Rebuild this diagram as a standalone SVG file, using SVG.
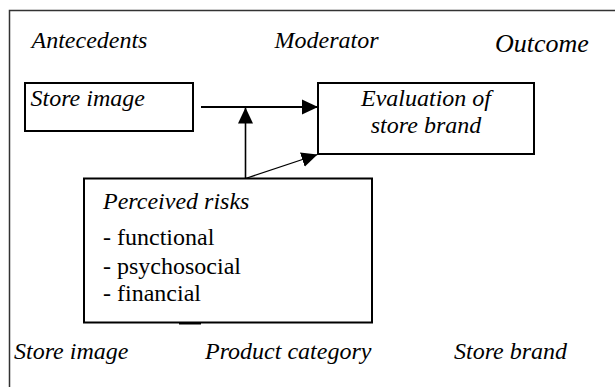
<svg xmlns="http://www.w3.org/2000/svg" width="615" height="387" viewBox="0 0 615 387">
<style>
text{font-family:'Liberation Serif','Times New Roman',Times,serif;font-size:24px;fill:#000}
.it{font-style:italic}
.box{fill:#fff;stroke:#000;stroke-width:2}
.conn{stroke:#000;fill:none}
</style>
<defs>
<marker id="ah" markerUnits="userSpaceOnUse" markerWidth="16" markerHeight="16" refX="16" refY="8" orient="auto" viewBox="0 0 16 16">
<path d="M0,0.5 L16,8 L0,15.5 z" fill="#000"/>
</marker>
</defs>
<rect width="615" height="387" fill="#fff"/>
<path d="M9.5,387 V10.5 H615" fill="none" stroke="#333" stroke-width="1.5"/>
<g font-family="Liberation Serif, Times New Roman, serif">
<g id="headers">
<text class="it" x="31.5" y="48">Antecedents</text>
<text class="it" x="274.5" y="48">Moderator</text>
<text class="it" x="495" y="51.5" style="font-size:26px">Outcome</text>
</g>
<g id="connectors">
<line class="conn" x1="201" y1="107" x2="318" y2="107" stroke-width="2.2" marker-end="url(#ah)"/>
<line class="conn" x1="245.5" y1="178.5" x2="245.5" y2="107.5" stroke-width="1.6" marker-end="url(#ah)"/>
<line class="conn" x1="245.5" y1="178.5" x2="317.5" y2="154.5" stroke-width="1.3" marker-end="url(#ah)"/>
</g>
<g id="store-image">
<rect class="box" x="25" y="83" width="168" height="48"/>
<text class="it" x="30.5" y="106">Store image</text>
</g>
<g id="evaluation">
<rect class="box" x="318" y="83" width="216" height="71"/>
<text class="it" x="426" y="106" text-anchor="middle">Evaluation of</text>
<text class="it" x="426" y="133" text-anchor="middle">store brand</text>
</g>
<g id="perceived-risks">
<rect class="box" x="84" y="178.5" width="288" height="144"/>
<rect x="179" y="322.5" width="22" height="2" fill="#000"/>
<text class="it" x="103" y="208.5">Perceived risks</text>
<text x="103" y="245">- functional</text>
<text x="103" y="273.5">- psychosocial</text>
<text x="103" y="301">- financial</text>
</g>
<g id="footers">
<text class="it" x="14" y="359">Store image</text>
<text class="it" x="205" y="359">Product category</text>
<text class="it" x="454" y="359">Store brand</text>
</g>
</g>
</svg>
